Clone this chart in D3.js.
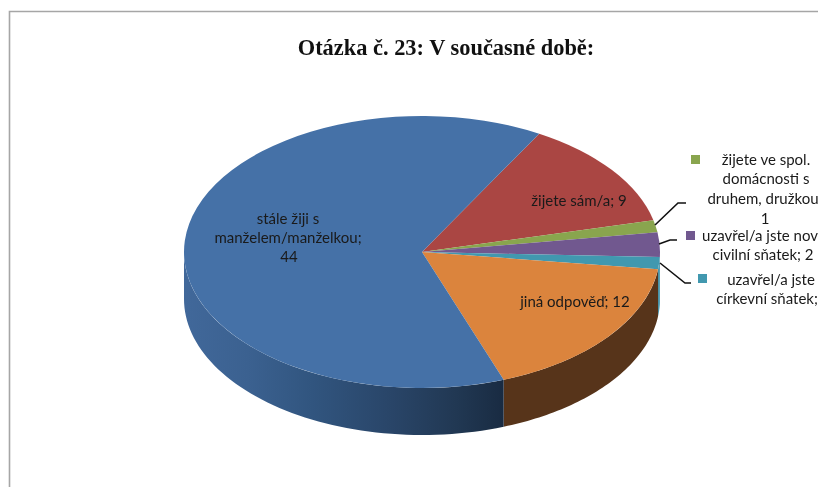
<!DOCTYPE html>
<html><head><meta charset="utf-8">
<style>html,body{margin:0;padding:0;background:#fff;overflow:hidden}svg{display:block;filter:blur(0.35px)}</style>
<script src="https://cdn.jsdelivr.net/npm/d3@7/dist/d3.min.js"></script>
</head><body><svg id="c" width="818" height="487"></svg>
<script>
const categories = ["stále žiji s manželem/manželkou","žijete sám/a","žijete ve spol. domácnosti s druhem, družkou","uzavřel/a jste nově civilní sňatek","uzavřel/a jste církevní sňatek","jiná odpověď"];
const values = [44,9,1,2,1,12];
const topColors = ["#4571a7","#aa4643","#89a54e","#71588f","#4198af","#db843d"];
const wallColors = ["url(#blueWall)","#6b2c2a","#56682f","#46365a","#3f93ab","#57341a"];
const title = "Otázka č. 23: V současné době:";
const W=818,H=487,cx=422,cy=252,rx=238,ry=136,depth=47;
const svg=d3.select("#c");
const order=[1,2,3,4,5,0]; // drawn clockwise from the red slice
const startDeg=29.5;
const pie=d3.pie().sort(null).value(i=>values[i]).startAngle(startDeg*Math.PI/180).endAngle((startDeg+360)*Math.PI/180);
const arcs=pie(order);
const defs=svg.append("defs");
const g=defs.append("linearGradient").attr("id","blueWall").attr("gradientUnits","userSpaceOnUse")
 .attr("x1",cx-rx).attr("x2",cx+82).attr("y1",0).attr("y2",0);
[[0,"#41689a"],[0.2,"#3b6190"],[0.4,"#31557f"],[0.65,"#294568"],[0.85,"#213853"],[1,"#192b42"]].forEach(s=>g.append("stop").attr("offset",s[0]).attr("stop-color",s[1]));

svg.append("path").attr("d",`M9.5,${H}V11.5H${W}`).attr("fill","none").attr("stroke","#a6a6a6").attr("stroke-width",1.6);

svg.append("text").attr("x",446).attr("y",54.5).attr("text-anchor","middle")
 .attr("font-family","Liberation Serif").attr("font-weight","bold").attr("font-size",22.4).attr("fill","#111").text(title);

// side wall
const pt=(a,d)=>[cx+rx*Math.sin(a),cy-ry*Math.cos(a)+d];
function wall(a0,a1){
  const s=Math.max(a0,Math.PI/2),e=Math.min(a1,Math.PI*1.5);
  if(e<=s) return null;
  const n=60,as=d3.range(n+1).map(i=>s+(e-s)*i/n);
  const top=as.map(a=>pt(a,0)),bot=as.map(a=>pt(a,depth)).reverse();
  return d3.line()(top.concat(bot))+"Z";
}
const walls=svg.append("g");
arcs.forEach(d=>{
  const c=wall(d.startAngle,d.endAngle);
  if(c) walls.append("path").attr("d",c).attr("fill",wallColors[d.data]);
});
// top face
const arc=d3.arc().innerRadius(0).outerRadius(rx);
const topG=svg.append("g").attr("transform",`translate(${cx},${cy}) scale(1,${ry/rx})`);
topG.selectAll("path").data(arcs).join("path").attr("d",arc).attr("fill",d=>topColors[d.data]);

// leader lines
const leaders=[[[655,225],[678,203],[686,203]],[[659,244],[670,240],[677,240]],[[660,263],[685,283],[691,283]]];
svg.append("g").selectAll("path").data(leaders).join("path").attr("d",d3.line()).attr("fill","none").attr("stroke","#111").attr("stroke-width",1.6);

// legend keys
const keys=[[691,155,2],[686,231,3],[698,274,4]];
svg.append("g").selectAll("rect").data(keys).join("rect").attr("x",d=>d[0]).attr("y",d=>d[1]).attr("width",9).attr("height",9).attr("fill",d=>topColors[d[2]]);

// labels
const labels=[
 ["žijete sám/a; 9",579,206],
 ["stále žiji s",288,224],["manželem/manželkou;",288,243],["44",289,262],
 ["jiná odpověď; 12",575,307],
 ["žijete ve spol.",766,165],["domácnosti s",766,184],["druhem, družkou",763,204],["1",765,224],
 ["uzavřel/a jste nov",760,241],["civilní sňatek; 2",763,260],
 ["uzavřel/a jste",771,285],["církevní sňatek;",767,304]
];
svg.append("g").selectAll("text").data(labels).join("text")
 .attr("x",d=>d[1]).attr("y",d=>d[2]).attr("text-anchor","middle")
 .attr("font-family","Lato").attr("font-size",15).attr("fill","#1a1a1a").text(d=>d[0]);
</script></body></html>
